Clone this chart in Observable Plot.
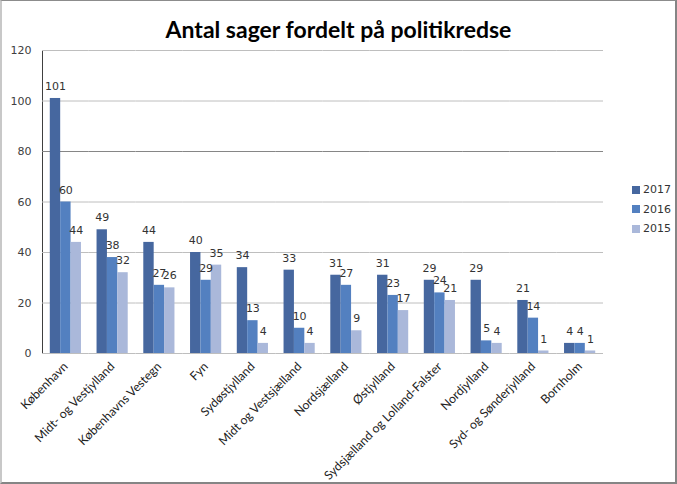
<!DOCTYPE html>
<html>
<head>
<meta charset="utf-8">
<script src="https://cdn.jsdelivr.net/npm/d3@7"></script>
<script src="https://cdn.jsdelivr.net/npm/@observablehq/plot@0.6"></script>
<style>
  body { margin: 0; background: #fff; }
  #wrap { position: relative; width: 677px; height: 484px; overflow: hidden; background: #fff; }
  #wrap svg { position: absolute; left: 0; top: 0; }
  #border { position: absolute; left: 0; top: 0; width: 677px; height: 484px; box-sizing: border-box;
    border-left: 2px solid #c8c8c8; border-top: 1px solid #8c8c8c; border-right: 2px solid #858585; border-bottom: 2px solid #858585; pointer-events: none; }
  #title { position: absolute; left: 0; width: 677px; top: 15px; text-align: center;
    font-family: Lato, sans-serif; font-weight: bold; font-size: 23px; color: #000; }
  #legend { position: absolute; left: 632px; top: 180px; font-family: "DejaVu Sans", sans-serif; font-size: 11px; color: #333; }
  #legend .item { height: 19.5px; display: flex; align-items: center; }
  #legend .sw { width: 8px; height: 8px; margin-right: 3px; }
</style>
</head>
<body>
<div id="wrap">
  <div id="chart"></div>
  <div id="title">Antal sager fordelt på politikredse</div>
  <div id="legend"></div>
  <div id="border"></div>
</div>
<script>
const categories = ["København", "Midt- og Vestjylland", "Københavns Vestegn", "Fyn", "Sydøstjylland",
  "Midt og Vestsjælland", "Nordsjælland", "Østjylland", "Sydsjælland og Lolland-Falster",
  "Nordjylland", "Syd- og Sønderjylland", "Bornholm"];
const years = ["2017", "2016", "2015"];
const values2017 = [101, 49, 44, 40, 34, 33, 31, 31, 29, 29, 21, 4];
const values2016 = [60, 38, 27, 29, 13, 10, 27, 23, 24, 5, 14, 4];
const values2015 = [44, 32, 26, 35, 4, 4, 9, 17, 21, 4, 1, 1];
const yTicks = [0, 20, 40, 60, 80, 100, 120];
const colors = ["#46679f", "#5380c0", "#aab8da"];

const series = {"2017": values2017, "2016": values2016, "2015": values2015};
const data = [];
categories.forEach((c, i) => years.forEach(y => data.push({cat: c, year: y, value: series[y][i]})));

const chart = Plot.plot({
  width: 677,
  height: 484,
  marginTop: 50,
  marginBottom: 131,
  marginLeft: 42,
  marginRight: 74,
  style: {fontFamily: "DejaVu Sans, sans-serif", fontSize: "11px", color: "#404040", background: "transparent"},
  facet: {data, x: "cat"},
  fx: {domain: categories, padding: 0, round: false, label: null, axis: "bottom", tickRotate: -45, tickSize: 0, tickPadding: 11},
  x: {domain: years, paddingInner: 0, paddingOuter: 0.75, round: false, axis: null},
  y: {domain: [0, 120], ticks: yTicks, tickSize: 0, tickPadding: 11, label: null, line: true},
  color: {domain: years, range: colors},
  marks: [
    Plot.ruleY(yTicks.filter(t => t > 0 && t !== 80), {stroke: "#bebebe"}),
    Plot.ruleY([80], {stroke: "#868686"}),
    Plot.barY(data, {x: "year", y: "value", fill: "year"}),
    Plot.ruleY([0], {stroke: "#bebebe"}),
    Plot.text(data, {x: "year", y: "value", text: "value", dy: -12, fill: "#333", fontSize: 11})
  ]
});
document.getElementById("chart").appendChild(chart);

// style fx labels
chart.querySelectorAll('[aria-label^="fx-axis"] text').forEach(t => {
  t.style.fontFamily = "Lato, sans-serif";
  t.style.fontSize = "12.2px";
  t.style.fill = "#222";
});

const legend = document.getElementById("legend");
years.forEach((y, i) => {
  const item = document.createElement("div");
  item.className = "item";
  const sw = document.createElement("div");
  sw.className = "sw";
  sw.style.background = colors[i];
  const lab = document.createElement("span");
  lab.textContent = y;
  item.appendChild(sw);
  item.appendChild(lab);
  legend.appendChild(item);
});
</script>
</body>
</html>
